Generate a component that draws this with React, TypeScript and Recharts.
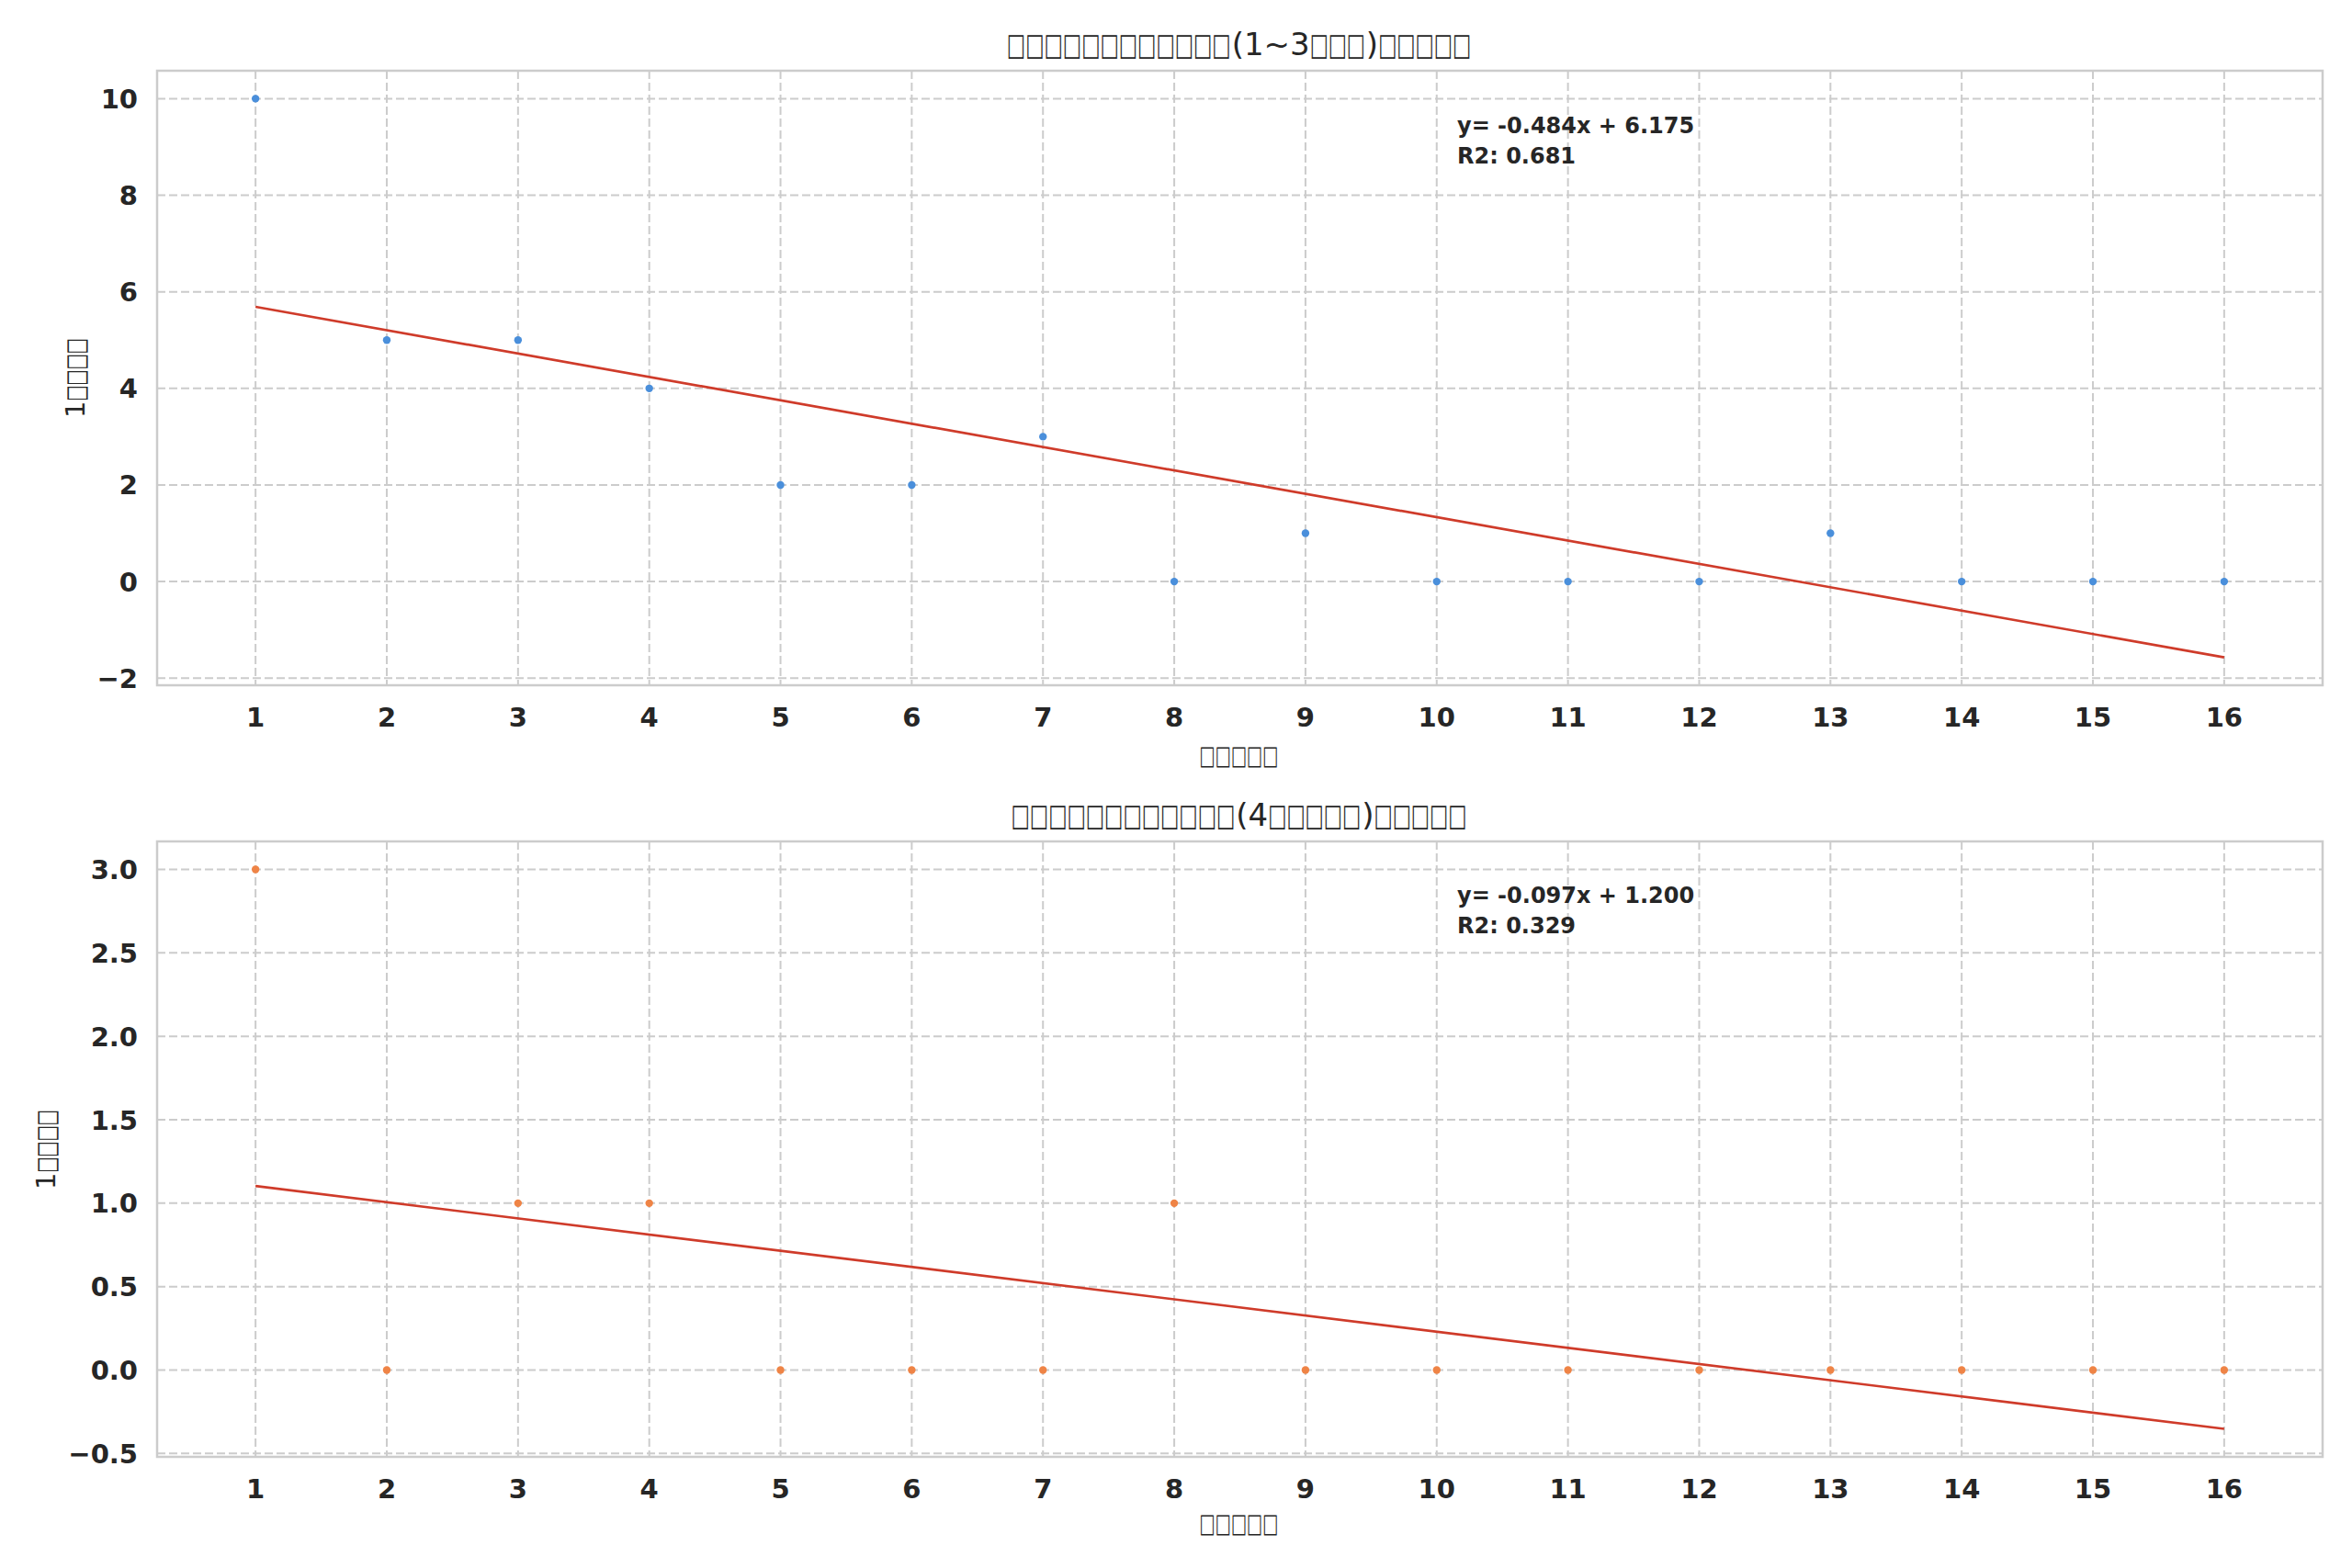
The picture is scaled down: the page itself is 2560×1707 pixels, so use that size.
import React from 'react';
import {
  ComposedChart,
  Scatter,
  Line,
  XAxis,
  YAxis,
  CartesianGrid,
  ReferenceArea,
} from 'recharts';

// ---------- data ----------
const xValues = [1, 2, 3, 4, 5, 6, 7, 8, 9, 10, 11, 12, 13, 14, 15, 16];
const topCounts = [10, 5, 5, 4, 2, 2, 3, 0, 1, 0, 0, 0, 1, 0, 0, 0];
const bottomCounts = [3, 0, 1, 1, 0, 0, 0, 1, 0, 0, 0, 0, 0, 0, 0, 0];
// fitted line values read at x = 1 and x = 16
const topFitEnds = [5.69, -1.57];
const bottomFitEnds = [1.103, -0.352];
const xTicks = [1, 2, 3, 4, 5, 6, 7, 8, 9, 10, 11, 12, 13, 14, 15, 16];
const topYTicks = [-2, 0, 2, 4, 6, 8, 10];
const bottomYTicks = [-0.5, 0, 0.5, 1, 1.5, 2, 2.5, 3];
const topYDomain = [-2.147, 10.578];
const bottomYDomain = [-0.52, 3.168];
const xDomain = [0.25, 16.75];

const B = '\u25A1';
const topTitle = B.repeat(12) + '(1~3' + B.repeat(3) + ')' + B.repeat(5);
const bottomTitle = B.repeat(12) + '(4' + B.repeat(5) + ')' + B.repeat(5);
const xLabel = B.repeat(5);
const yLabel = '1' + B.repeat(4);
const topEq = 'y= -0.484x + 6.175';
const topR2 = 'R2: 0.681';
const bottomEq = 'y= -0.097x + 1.200';
const bottomR2 = 'R2: 0.329';

const FONT = 'DejaVu Sans';
const TEXT = '#262626';

// advance widths (em) of the DejaVu Sans characters used beside the boxes
const ADV: Record<string, number> = { '(': 0.39, ')': 0.39, '~': 0.838, '1': 0.636, '3': 0.636, '4': 0.636 };
const BOX_ADV = 0.6; // box width seen in the reference
const BOX_NATURAL = 0.94; // width of the box glyph as the browser draws it
const BOX_SHRINK = BOX_ADV / BOX_NATURAL;

const XTick = (props: any) => {
  const { x, y, payload } = props;
  return (
    <text x={x} y={y + 45} textAnchor="middle" fontFamily={FONT} fontWeight="bold" fontSize={29} fill={TEXT}>
      {payload.value}
    </text>
  );
};

const makeYTick = (fmt: (v: number) => string) => (props: any) => {
  const { x, y, payload } = props;
  return (
    <text x={x - 21} y={y + 10.5} textAnchor="end" fontFamily={FONT} fontWeight="bold" fontSize={29} fill={TEXT}>
      {fmt(payload.value)}
    </text>
  );
};

const fmtInt = (v: number) => String(v).replace('-', '\u2212');
const fmtOne = (v: number) => v.toFixed(1).replace('-', '\u2212');

const makeDot = (color: string) => (props: any) => {
  const { cx, cy } = props;
  return <circle cx={cx} cy={cy} r={4.2} fill={color} />;
};

// Text whose box characters are drawn at the narrow width seen in the reference
function BoxText(p: { x: number; y: number; fs: number; text: string; rotate?: boolean }) {
  const runs = p.text.match(/(\u25A1+|[^\u25A1]+)/g) || [];
  const widths = runs.map((r) =>
    r[0] === B ? r.length * BOX_ADV * p.fs : r.split('').reduce((s, c) => s + (ADV[c] || 0.6), 0) * p.fs
  );
  const total = widths.reduce((a, b) => a + b, 0);
  let cur = p.x - total / 2;
  const items = runs.map((r, i) => {
    const sx = cur;
    cur += widths[i];
    return r[0] === B ? (
      <text
        key={i}
        x={0}
        y={0}
        fontSize={p.fs * BOX_SHRINK}
        transform={`translate(${sx} ${p.y}) scale(1 ${1 / BOX_SHRINK})`}
        textLength={widths[i] - 1}
        lengthAdjust="spacingAndGlyphs"
      >
        {r}
      </text>
    ) : (
      <text key={i} x={sx} y={p.y}>
        {r}
      </text>
    );
  });
  return (
    <g
      fontSize={p.fs}
      fontFamily={FONT}
      fill={TEXT}
      textAnchor="start"
      transform={p.rotate ? `rotate(-90 ${p.x} ${p.y})` : undefined}
    >
      {items}
    </g>
  );
}

function Panel(p: {
  top: number;
  counts: number[];
  fit: number[];
  yDomain: number[];
  yTicks: number[];
  color: string;
  fmt: (v: number) => string;
  bottomMargin: number;
}) {
  const pts = xValues.map((x, i) => ({ x, y: p.counts[i] }));
  const line = [
    { x: xValues[0], y: p.fit[0] },
    { x: xValues[xValues.length - 1], y: p.fit[1] },
  ];
  return (
    <div style={{ position: 'absolute', left: 0, top: p.top, width: 2560, height: 840 }}>
      <ComposedChart width={2560} height={840} margin={{ top: 77, right: 32, bottom: p.bottomMargin, left: 0 }}>
        <CartesianGrid stroke="#cccccc" strokeWidth={2} strokeDasharray="9 4" />
        <XAxis
          type="number"
          dataKey="x"
          domain={xDomain}
          ticks={xTicks}
          allowDataOverflow
          interval={0}
          tickLine={false}
          axisLine={false}
          tickSize={0}
          tickMargin={0}
          height={60}
          tick={XTick}
        />
        <YAxis
          type="number"
          dataKey="y"
          domain={p.yDomain}
          ticks={p.yTicks}
          allowDataOverflow
          interval={0}
          tickLine={false}
          axisLine={false}
          tickSize={0}
          tickMargin={0}
          width={171}
          tick={makeYTick(p.fmt)}
        />
        <ReferenceArea
          x1={xDomain[0]}
          x2={xDomain[1]}
          y1={p.yDomain[0]}
          y2={p.yDomain[1]}
          fill="none"
          fillOpacity={0}
          stroke="#cccccc"
          strokeWidth={2.5}
          ifOverflow="visible"
        />
        <Scatter data={pts} dataKey="y" fill={p.color} shape={makeDot(p.color)} isAnimationActive={false} />
        <Line
          data={line}
          dataKey="y"
          type="linear"
          stroke="#cf3b2a"
          strokeWidth={2.7}
          dot={false}
          activeDot={false}
          isAnimationActive={false}
        />
      </ComposedChart>
    </div>
  );
}

export default function App() {
  return (
    <div style={{ position: 'absolute', left: 0, top: 0, width: 2560, height: 1707, background: '#ffffff' }}>
      <Panel
        top={0}
        counts={topCounts}
        fit={topFitEnds}
        yDomain={topYDomain}
        yTicks={topYTicks}
        color="#4a8fdb"
        fmt={fmtInt}
        bottomMargin={34}
      />
      <Panel
        top={839}
        counts={bottomCounts}
        fit={bottomFitEnds}
        yDomain={bottomYDomain}
        yTicks={bottomYTicks}
        color="#ef8446"
        fmt={fmtOne}
        bottomMargin={33}
      />
      <svg width={2560} height={1707} style={{ position: 'absolute', left: 0, top: 0, pointerEvents: 'none' }}>
        <BoxText x={1349} y={60} fs={34} text={topTitle} />
        <BoxText x={1349} y={832} fs={29} text={xLabel} />
        <BoxText x={92} y={411} fs={29} text={yLabel} rotate />
        <BoxText x={1349} y={899} fs={34} text={bottomTitle} />
        <BoxText x={1349} y={1668} fs={29} text={xLabel} />
        <BoxText x={60} y={1251} fs={29} text={yLabel} rotate />
        <g fontFamily={FONT} fill={TEXT} fontSize={24} fontWeight="bold">
          <text x={1586} y={145}>{topEq}</text>
          <text x={1586} y={178}>{topR2}</text>
          <text x={1586} y={983}>{bottomEq}</text>
          <text x={1586} y={1016}>{bottomR2}</text>
        </g>
      </svg>
    </div>
  );
}
